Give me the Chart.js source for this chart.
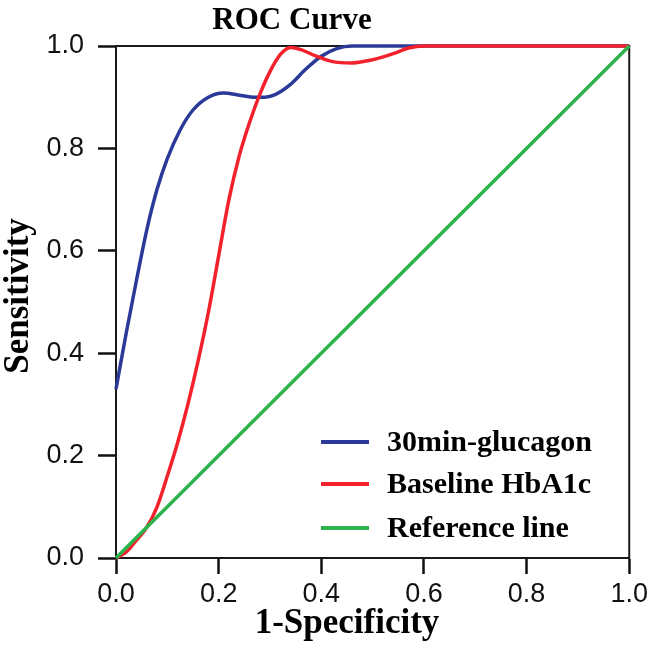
<!DOCTYPE html>
<html>
<head>
<meta charset="utf-8">
<script src="https://cdn.jsdelivr.net/npm/chart.js@4/dist/chart.umd.min.js"></script>
<style>
  html, body { margin: 0; padding: 0; background: #fff; }
  #wrap { width: 652px; height: 656px; }
</style>
</head>
<body>
<div id="wrap"><canvas id="c" width="652" height="656"></canvas></div>
<script>
// ---- data ----
const chartTitle = "ROC Curve";
const xAxisTitle = "1-Specificity";
const yAxisTitle = "Sensitivity";
const seriesNames = ["30min-glucagon", "Baseline HbA1c", "Reference line"];

const glucagonFPR = [0, 0.02, 0.04, 0.06, 0.08, 0.10, 0.125, 0.15, 0.18, 0.21, 0.24, 0.27, 0.29, 0.31, 0.34, 0.37, 0.40, 0.43, 0.46, 0.55, 0.70, 0.80, 1.0];
const glucagonTPR = [0.33, 0.44, 0.543, 0.641, 0.72, 0.78, 0.836, 0.875, 0.90, 0.908, 0.904, 0.90, 0.90, 0.905, 0.925, 0.955, 0.98, 0.995, 1.0, 1.0, 1.0, 1.0, 1.0];

const hba1cFPR = [0, 0.02, 0.04, 0.06, 0.08, 0.10, 0.12, 0.14, 0.16, 0.18, 0.20, 0.22, 0.24, 0.26, 0.28, 0.30, 0.32, 0.34, 0.36, 0.39, 0.42, 0.46, 0.50, 0.54, 0.57, 0.60, 0.80, 1.0];
const hba1cTPR = [0, 0.012, 0.035, 0.06, 0.10, 0.16, 0.225, 0.30, 0.385, 0.48, 0.59, 0.70, 0.785, 0.85, 0.905, 0.95, 0.983, 0.997, 0.993, 0.98, 0.97, 0.967, 0.973, 0.985, 0.996, 1.0, 1.0, 1.0];

const refFPR = [0, 1];
const refTPR = [0, 1];

const xTicks = [0, 0.2, 0.4, 0.6, 0.8, 1.0];
const yTicks = [0, 0.2, 0.4, 0.6, 0.8, 1.0];

const seriesColors = ["#2b3a98", "#f2212b", "#2cb34c"];

// ---- build points ----
function pts(xs, ys) { return xs.map((x, i) => ({ x: x, y: ys[i] })); }

const serif = "'Liberation Serif', 'Times New Roman', serif";
const sans = "'Liberation Sans', Arial, sans-serif";

const decorPlugin = {
  id: 'decor',
  beforeDatasetsDraw(chart) {
    const a = chart.chartArea, ctx = chart.ctx;
    ctx.save();
    ctx.strokeStyle = '#1a1a1a';
    ctx.lineWidth = 2;
    ctx.strokeRect(a.left, a.top, a.right - a.left, a.bottom - a.top);
    ctx.restore();
  },
  afterDraw(chart) {
    const ctx = chart.ctx;
    ctx.save();
    ctx.fillStyle = '#000';
    // title
    ctx.font = "bold 31px " + serif;
    ctx.textAlign = 'center';
    ctx.textBaseline = 'alphabetic';
    ctx.fillText(chartTitle, 292, 29);
    // x axis title
    ctx.font = "bold 35px " + serif;
    ctx.fillText(xAxisTitle, 347, 633);
    // y axis title
    ctx.save();
    ctx.translate(28, 296);
    ctx.rotate(-Math.PI / 2);
    ctx.fillText(yAxisTitle, 0, 0);
    ctx.restore();
    // legend
    const rows = [442, 484, 528];
    ctx.font = "bold 30px " + serif;
    ctx.textAlign = 'left';
    ctx.textBaseline = 'middle';
    chart.data.datasets.forEach((ds, i) => {
      const y = rows[i];
      ctx.strokeStyle = ds.borderColor;
      ctx.lineWidth = 4;
      ctx.beginPath();
      ctx.moveTo(321, y);
      ctx.lineTo(369, y);
      ctx.stroke();
      ctx.fillStyle = '#000';
      ctx.fillText(ds.label, 387, y + 1);
    });
    ctx.restore();
  }
};

const commonLine = { pointRadius: 0, borderWidth: 3.5, fill: false, clip: false, cubicInterpolationMode: 'monotone' };

new Chart(document.getElementById('c'), {
  type: 'line',
  data: {
    datasets: [
      Object.assign({ label: seriesNames[0], data: pts(glucagonFPR, glucagonTPR), borderColor: seriesColors[0], order: 3 }, commonLine),
      Object.assign({ label: seriesNames[1], data: pts(hba1cFPR, hba1cTPR), borderColor: seriesColors[1], order: 2 }, commonLine),
      Object.assign({ label: seriesNames[2], data: pts(refFPR, refTPR), borderColor: seriesColors[2], order: 1 }, commonLine)
    ]
  },
  options: {
    responsive: false,
    animation: false,
    devicePixelRatio: 1,
    layout: { padding: { left: 0, right: 21, top: 46, bottom: 0 } },
    plugins: { legend: { display: false }, title: { display: false }, tooltip: { enabled: false } },
    scales: {
      x: {
        type: 'linear', min: 0, max: 1,
        afterBuildTicks(s) { s.ticks = xTicks.map(v => ({ value: v })); },
        afterFit(s) { s.height = 98; },
        ticks: { callback: v => v.toFixed(1), font: { family: sans, size: 27 }, color: '#111', padding: 4, maxRotation: 0 },
        grid: { drawOnChartArea: false, drawTicks: true, tickLength: 16, tickWidth: 2.5, tickColor: '#111' },
        border: { display: true, color: '#1a1a1a', width: 2 }
      },
      y: {
        type: 'linear', min: 0, max: 1,
        afterBuildTicks(s) { s.ticks = yTicks.map(v => ({ value: v })); },
        afterFit(s) { s.width = 116; },
        ticks: { callback: v => v.toFixed(1), font: { family: sans, size: 27 }, color: '#111', padding: 14 },
        grid: { drawOnChartArea: false, drawTicks: true, tickLength: 18, tickWidth: 2.5, tickColor: '#111' },
        border: { display: true, color: '#1a1a1a', width: 2 }
      }
    }
  },
  plugins: [decorPlugin]
});
</script>
</body>
</html>
